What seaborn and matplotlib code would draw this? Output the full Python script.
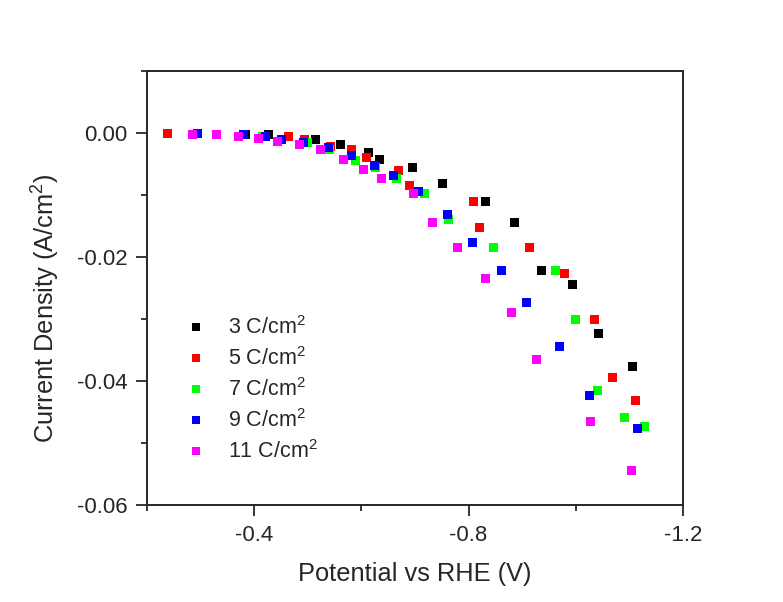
import pandas as pd
import matplotlib
matplotlib.use("Agg")
import matplotlib.pyplot as plt
from matplotlib.ticker import MultipleLocator, FuncFormatter
import seaborn as sns

labels = ["3 C/cm$^2$", "5 C/cm$^2$", "7 C/cm$^2$", "9 C/cm$^2$", "11 C/cm$^2$"]
colors = ["#000000", "#ff0000", "#00ff00", "#0000ff", "#ff00ff"]

pot_3 = [-0.383, -0.426, -0.515, -0.560, -0.614, -0.633, -0.696, -0.752, -0.831,
         -0.885, -0.937, -0.995, -1.043, -1.107]
cur_3 = [-0.0002, -0.0002, -0.0011, -0.0019, -0.0031, -0.0042, -0.0056, -0.0081, -0.0111,
         -0.0144, -0.0221, -0.0244, -0.0323, -0.0376]

pot_5 = [-0.237, -0.463, -0.493, -0.543, -0.582, -0.610, -0.670, -0.689, -0.810,
         -0.821, -0.913, -0.980, -1.036, -1.068, -1.112]
cur_5 = [0.0, -0.0006, -0.0011, -0.0021, -0.0027, -0.0039, -0.0061, -0.0085, -0.0111,
         -0.0153, -0.0185, -0.0227, -0.0300, -0.0395, -0.0432]

pot_7 = [-0.379, -0.415, -0.499, -0.541, -0.588, -0.627, -0.666, -0.717, -0.763,
         -0.847, -0.963, -1.000, -1.040, -1.092, -1.129]
cur_7 = [-0.0002, -0.0006, -0.0015, -0.0027, -0.0044, -0.0056, -0.0073, -0.0098, -0.0140,
         -0.0185, -0.0221, -0.0300, -0.0415, -0.0458, -0.0474]

pot_9 = [-0.293, -0.379, -0.420, -0.450, -0.491, -0.538, -0.582, -0.624, -0.659,
         -0.706, -0.760, -0.808, -0.862, -0.909, -0.969, -1.026, -1.116]
cur_9 = [0.0, -0.0002, -0.0006, -0.0011, -0.0016, -0.0023, -0.0037, -0.0052, -0.0068,
         -0.0094, -0.0132, -0.0176, -0.0221, -0.0274, -0.0345, -0.0423, -0.0477]

pot_11 = [-0.284, -0.329, -0.370, -0.407, -0.443, -0.485, -0.523, -0.566, -0.603,
          -0.638, -0.698, -0.732, -0.780, -0.831, -0.881, -0.926, -1.028, -1.105]
cur_11 = [-0.0002, -0.0002, -0.0006, -0.0008, -0.0013, -0.0019, -0.0027, -0.0042, -0.0058,
          -0.0074, -0.0097, -0.0144, -0.0185, -0.0235, -0.0290, -0.0365, -0.0465, -0.0545]

pots = [pot_3, pot_5, pot_7, pot_9, pot_11]
curs = [cur_3, cur_5, cur_7, cur_9, cur_11]

frames = []
for lab, p, c in zip(labels, pots, curs):
    frames.append(pd.DataFrame({"potential": p, "current": c, "charge": lab}))
df = pd.concat(frames, ignore_index=True)

sns.set_style("ticks")
plt.rcParams['font.family'] = ['Liberation Sans', 'DejaVu Sans']
plt.rcParams['mathtext.fontset'] = 'custom'
plt.rcParams['mathtext.rm'] = 'Liberation Sans'

fig = plt.figure(figsize=(7.83, 6.02), dpi=100)
ax = fig.add_axes([0.188, 0.161, 0.684, 0.721])

sns.scatterplot(data=df, x="potential", y="current", hue="charge",
                hue_order=labels, palette=dict(zip(labels, colors)),
                marker="s", s=42, linewidth=0, ax=ax)

ax.set_xlim(-0.2, -1.2)
ax.set_ylim(-0.06, 0.01)
ax.set_xticks([-0.4, -0.8, -1.2])
ax.set_xticklabels(["-0.4", "-0.8", "-1.2"])
ax.xaxis.set_minor_locator(MultipleLocator(0.2))
ax.yaxis.set_major_locator(MultipleLocator(0.02))
ax.yaxis.set_minor_locator(MultipleLocator(0.01))
ax.yaxis.set_major_formatter(FuncFormatter(
    lambda v, pos: f"{v:.2f}" if v < 0.005 else ""))

ax.tick_params(which='major', direction='out', length=8, width=1.3, labelsize=16, pad=6)
ax.tick_params(which='minor', direction='out', length=4, width=1.3)
for sp in ax.spines.values():
    sp.set_linewidth(1.4)

ax.set_xlabel("Potential vs RHE (V)", fontsize=18.3, labelpad=12)
ax.set_ylabel("Current Density (A/cm$^2$)", fontsize=18.3)
ax.yaxis.set_label_coords(-0.159, 0.453)

ax.legend(loc="upper left", bbox_to_anchor=(0.05, 0.455), frameon=False,
          fontsize=15.5, markerscale=0.85, handletextpad=0.9, labelspacing=0.38,
          handlelength=1.2, borderaxespad=0)

fig.savefig("out.png", dpi=100, facecolor="white")
